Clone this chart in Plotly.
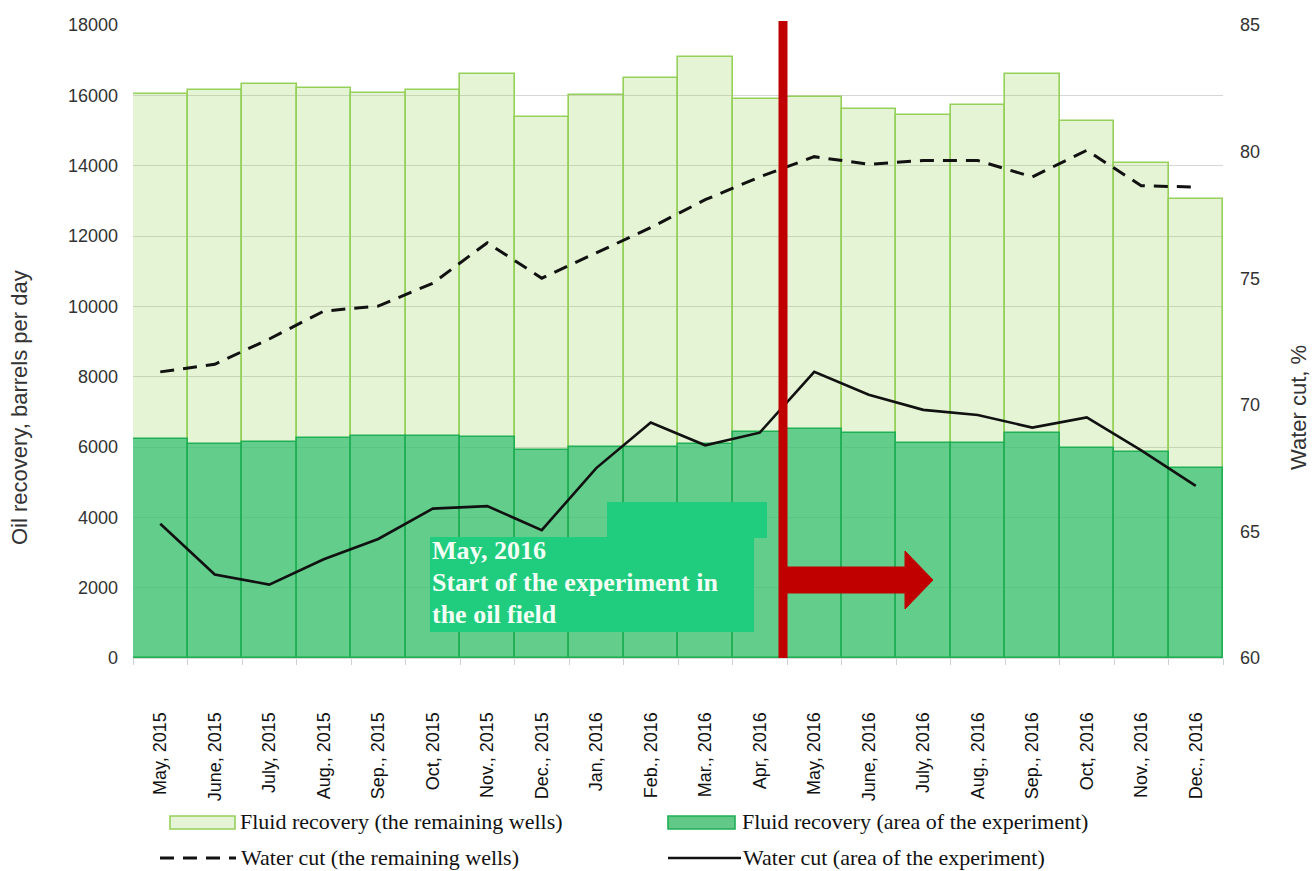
import plotly.graph_objects as go

months = ["May, 2015", "June, 2015", "July, 2015", "Aug., 2015", "Sep., 2015", "Oct, 2015",
          "Nov., 2015", "Dec., 2015", "Jan, 2016", "Feb., 2016", "Mar., 2016", "Apr, 2016",
          "May, 2016", "June, 2016", "July, 2016", "Aug., 2016", "Sep., 2016", "Oct, 2016",
          "Nov., 2016", "Dec., 2016"]

fluid_remaining = [16040, 16160, 16330, 16200, 16080, 16150, 16600, 15390, 16000, 16500,
                   17100, 15890, 15960, 15610, 15440, 15725, 16605, 15270, 14085, 13045]
fluid_experiment = [6230, 6080, 6150, 6260, 6310, 6310, 6290, 5910, 6010, 6010,
                    6085, 6435, 6500, 6390, 6105, 6105, 6390, 5960, 5850, 5390]
wc_remaining = [71.3, 71.6, 72.6, 73.7, 73.9, 74.8, 76.4, 75.0, 76.0, 77.0,
                78.1, 79.0, 79.8, 79.5, 79.65, 79.65, 79.0, 80.05, 78.65, 78.6]
wc_experiment = [65.3, 63.3, 62.9, 63.9, 64.7, 65.9, 66.0, 65.05, 67.5, 69.3,
                 68.4, 68.9, 71.3, 70.4, 69.8, 69.6, 69.1, 69.5, 68.2, 66.8]

legend_names = ["Fluid recovery (the remaining wells)", "Fluid recovery (area of the experiment)",
                "Water cut (the remaining wells)", "Water cut (area of the experiment)"]
note_lines = ["May, 2016", "Start of the experiment in", "the oil field"]
y1_title = "Oil recovery, barrels per day"
y2_title = "Water cut, %"

W, H = 1312, 871
L, R, T, B = 133, 1223, 25, 658
PW, PH = R - L, B - T


def px(x):
    return (x - L) / PW


def py(y):
    return (B - y) / PH


LIGHT_FILL = "rgba(146,208,80,0.24)"
LIGHT_LINE = "#95d05a"
DARK_FILL = "rgba(54,192,114,0.74)"
DARK_LINE = "#1faf55"
RED = "#c00000"
BOX = "#20cc7e"
DASH = "14px,9px"

fig = go.Figure()
fig.add_trace(go.Bar(x=months, y=fluid_remaining, name=legend_names[0],
                     marker=dict(color=LIGHT_FILL, line=dict(color=LIGHT_LINE, width=1.6)),
                     showlegend=False))
fig.add_trace(go.Bar(x=months, y=fluid_experiment, name=legend_names[1],
                     marker=dict(color=DARK_FILL, line=dict(color=DARK_LINE, width=1.6)),
                     showlegend=False))
fig.add_trace(go.Scatter(x=months, y=wc_remaining, name=legend_names[2], yaxis="y2",
                         mode="lines", line=dict(color="#111111", width=3, dash=DASH),
                         showlegend=False))
fig.add_trace(go.Scatter(x=months, y=wc_experiment, name=legend_names[3], yaxis="y2",
                         mode="lines", line=dict(color="#111111", width=2.6),
                         showlegend=False))

shapes = []
annotations = []

# experiment start marker (vertical line + arrow) and note box
shapes.append(dict(type="line", xref="paper", yref="paper", x0=px(783), x1=px(783),
                   y0=0, y1=py(21), line=dict(color=RED, width=9), layer="above"))
arrow = [(787, 567), (905, 567), (905, 551), (933, 580), (905, 609), (905, 593), (787, 593)]
path = "M " + " L ".join(f"{px(a):.5f},{py(b):.5f}" for a, b in arrow) + " Z"
shapes.append(dict(type="path", xref="paper", yref="paper", path=path,
                   fillcolor=RED, line=dict(color=RED, width=1), layer="above"))
shapes.append(dict(type="rect", xref="paper", yref="paper", x0=px(607), x1=px(767),
                   y0=py(538), y1=py(502), fillcolor=BOX, line=dict(width=0), layer="above"))
shapes.append(dict(type="rect", xref="paper", yref="paper", x0=px(430), x1=px(754),
                   y0=py(632), y1=py(537), fillcolor=BOX, line=dict(width=0), layer="above"))
for txt, yc in zip(note_lines, [550, 582, 614]):
    annotations.append(dict(text=f"<b>{txt}</b>", xref="paper", yref="paper", x=px(430),
                            y=py(yc), xanchor="left", yanchor="middle", showarrow=False,
                            font=dict(family="Liberation Serif", size=26, color="#f4fff6")))

# axis titles
annotations.append(dict(text=y1_title, xref="paper", yref="paper", x=px(19), y=py(408),
                        textangle=-90, showarrow=False, xanchor="center", yanchor="middle",
                        font=dict(family="Liberation Sans", size=22, color="#333333")))
annotations.append(dict(text=y2_title, xref="paper", yref="paper", x=px(1298), y=py(408),
                        textangle=-90, showarrow=False, xanchor="center", yanchor="middle",
                        font=dict(family="Liberation Sans", size=22, color="#333333")))

# legend (drawn manually to match wide symbols)
leg_font = dict(family="Liberation Serif", size=22, color="#111111")
shapes.append(dict(type="rect", xref="paper", yref="paper", x0=px(170), x1=px(235),
                   y0=py(829), y1=py(816), fillcolor="#e5f3d6",
                   line=dict(color=LIGHT_LINE, width=1.6)))
shapes.append(dict(type="rect", xref="paper", yref="paper", x0=px(668), x1=px(735),
                   y0=py(829), y1=py(816), fillcolor="#61c887",
                   line=dict(color=DARK_LINE, width=1.6)))
shapes.append(dict(type="line", xref="paper", yref="paper", x0=px(160), x1=px(236),
                   y0=py(858), y1=py(858), line=dict(color="#111111", width=3, dash=DASH)))
shapes.append(dict(type="line", xref="paper", yref="paper", x0=px(668), x1=px(741),
                   y0=py(858), y1=py(858), line=dict(color="#111111", width=2.6)))
for txt, xl, yc in [(legend_names[0], 238, 822), (legend_names[1], 740, 822),
                    (legend_names[2], 239, 857), (legend_names[3], 741, 857)]:
    annotations.append(dict(text=txt, xref="paper", yref="paper", x=px(xl), y=py(yc),
                            xanchor="left", yanchor="middle", showarrow=False, font=leg_font))

fig.update_layout(
    width=W, height=H,
    margin=dict(l=L, r=W - R, t=T, b=H - B, pad=0),
    paper_bgcolor="white", plot_bgcolor="white",
    barmode="overlay", bargap=0,
    showlegend=False,
    shapes=shapes, annotations=annotations,
    xaxis=dict(type="category", categoryorder="array", categoryarray=months,
               range=[-0.5, len(months) - 0.5], showgrid=False,
               showline=True, linecolor="#d9d9d9", linewidth=1,
               ticks="outside", tickson="boundaries", ticklen=6, tickcolor="#d0d0d0",
               tickangle=-90, ticklabelstandoff=46,
               tickfont=dict(family="Liberation Sans", size=18, color="#111111")),
    yaxis=dict(range=[0, 18000], dtick=2000, tickformat="d", showgrid=True,
               gridcolor="#d6d6d6", gridwidth=1, zeroline=False, showline=False, ticks="",
               ticklabelstandoff=14,
               tickfont=dict(family="Liberation Sans", size=18, color="#333333")),
    yaxis2=dict(range=[60, 85], dtick=5, overlaying="y", side="right", showgrid=False,
                zeroline=False, showline=False, ticks="", ticklabelstandoff=16,
                tickfont=dict(family="Liberation Sans", size=18, color="#333333")),
)

fig.write_html("out.html", config={"displayModeBar": False},
               post_script="document.body.style.margin='0';document.body.style.overflow='hidden';")
